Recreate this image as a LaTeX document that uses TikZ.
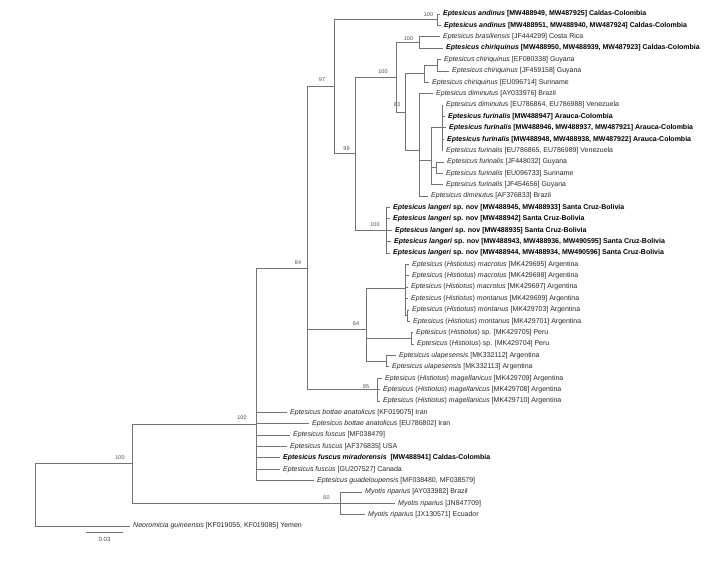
\documentclass[tikz,border=0pt]{standalone}
\usepackage{fontspec}
\setmainfont{Liberation Sans}
\usepackage{tikz}
\usepackage{xcolor}

\begin{document}
\begin{tikzpicture}[
    x=1pt, y=-1pt,
    tip/.style={anchor=west, inner xsep=3pt, inner ysep=0pt, font=\fontsize{7}{8}\selectfont, text=black!85},
    tipb/.style={tip, font=\fontsize{7}{8}\selectfont\bfseries, text=black},
    bs/.style={inner sep=0pt, font=\fontsize{5.5}{6}\selectfont, text=black!70},
    branch/.style={draw=black!55, line width=0.8pt}
]
  \useasboundingbox (0,0) rectangle (714,565);

  % --- TIPS: ANDINUS TO DIMINUTUS ---
  \node[tipb] (and1) at (440,14.0) {\textit{Eptesicus andinus} [MW488949, MW487925] Caldas-Colombia};
  \node[tipb] (and2) at (441,25.4) {\textit{Eptesicus andinus} [MW488951, MW488940, MW487924] Caldas-Colombia};
  \node[tip] (bra) at (440,36.8) {\textit{Eptesicus brasiliensis} [JF444299] Costa Rica};
  \node[tipb] (chi1) at (443,48.1) {\textit{Eptesicus chiriquinus} [MW488950, MW488939, MW487923] Caldas-Colombia};
  \node[tip] (chi2) at (441,59.5) {\textit{Eptesicus chiriquinus} [EF080338] Guyana};
  \node[tip] (chi3) at (449,70.9) {\textit{Eptesicus chiriquinus} [JF459158] Guyana};
  \node[tip] (chi4) at (429,82.3) {\textit{Eptesicus chiriquinus} [EU096714] Suriname};
  \node[tip] (dim1) at (433,93.7) {\textit{Eptesicus diminutus} [AY033976] Brazil};
  \node[tip] (dim2) at (443,105.0) {\textit{Eptesicus diminutus} [EU786864, EU786988] Venezuela};
  \node[tipb] (fur1) at (445,116.4) {\textit{Eptesicus furinalis} [MW488947] Arauca-Colombia};
  \node[tipb] (fur2) at (446,127.8) {\textit{Eptesicus furinalis} [MW488946, MW488937, MW487921] Arauca-Colombia};
  \node[tipb] (fur3) at (444,139.2) {\textit{Eptesicus furinalis} [MW488948, MW488938, MW487922] Arauca-Colombia};
  \node[tip] (fur4) at (443,150.6) {\textit{Eptesicus furinalis} [EU786865, EU786989] Venezuela};
  \node[tip] (fur5) at (444,161.9) {\textit{Eptesicus furinalis} [JF448032] Guyana};
  \node[tip] (fur6) at (443,173.3) {\textit{Eptesicus furinalis} [EU096733] Suriname};
  \node[tip] (fur7) at (443,184.7) {\textit{Eptesicus furinalis} [JF454656] Guyana};
  \node[tip] (dim3) at (428,196.1) {\textit{Eptesicus diminutus} [AF376833] Brazil};

  % --- TIPS: LANGERI ---
  \node[tipb] (lan1) at (390,207.5) {\textit{Eptesicus langeri} sp. nov [MW488945, MW488933] Santa Cruz-Bolivia};
  \node[tipb] (lan2) at (390,218.8) {\textit{Eptesicus langeri} sp. nov [MW488942] Santa Cruz-Bolivia};
  \node[tipb] (lan3) at (392,230.2) {\textit{Eptesicus langeri} sp. nov [MW488935] Santa Cruz-Bolivia};
  \node[tipb] (lan4) at (391,241.6) {\textit{Eptesicus langeri} sp. nov [MW488943, MW488936, MW490595] Santa Cruz-Bolivia};
  \node[tipb] (lan5) at (390,253.0) {\textit{Eptesicus langeri} sp. nov [MW488944, MW488934, MW490596] Santa Cruz-Bolivia};

  % --- TIPS: HISTIOTUS ---
  \node[tip] (mac1) at (409,264.4) {\textit{Eptesicus} (\textit{Histiotus}) \textit{macrotus} [MK429695] Argentina};
  \node[tip] (mac2) at (409,275.7) {\textit{Eptesicus} (\textit{Histiotus}) \textit{macrotus} [MK429698] Argentina};
  \node[tip] (mac3) at (408,287.1) {\textit{Eptesicus} (\textit{Histiotus}) \textit{macrotus} [MK429697] Argentina};
  \node[tip] (mon1) at (408,298.5) {\textit{Eptesicus} (\textit{Histiotus}) \textit{montanus} [MK429699] Argentina};
  \node[tip] (mon2) at (409,309.9) {\textit{Eptesicus} (\textit{Histiotus}) \textit{montanus} [MK429703] Argentina};
  \node[tip] (mon3) at (410,321.3) {\textit{Eptesicus} (\textit{Histiotus}) \textit{montanus} [MK429701] Argentina};
  \node[tip] (his1) at (413,332.6) {\textit{Eptesicus} (\textit{Histiotus}) sp. [MK429705] Peru};
  \node[tip] (his2) at (414,344.0) {\textit{Eptesicus} (\textit{Histiotus}) sp. [MK429704] Peru};
  \node[tip] (ula1) at (396,355.4) {\textit{Eptesicus ulapesensis} [MK332112] Argentina};
  \node[tip] (ula2) at (389,366.8) {\textit{Eptesicus ulapesensis} [MK332113] Argentina};
  \node[tip] (mag1) at (382,378.2) {\textit{Eptesicus} (\textit{Histiotus}) \textit{magellanicus} [MK429709] Argentina};
  \node[tip] (mag2) at (380,389.5) {\textit{Eptesicus} (\textit{Histiotus}) \textit{magellanicus} [MK429708] Argentina};
  \node[tip] (mag3) at (380,400.9) {\textit{Eptesicus} (\textit{Histiotus}) \textit{magellanicus} [MK429710] Argentina};

  % --- TIPS: BASAL EPTESICUS, MYOTIS, OUTGROUP ---
  \node[tip] (bot1) at (287,412.3) {\textit{Eptesicus bottae anatolicus} [KF019075] Iran};
  \node[tip] (bot2) at (309,423.7) {\textit{Eptesicus bottae anatolicus} [EU786802] Iran};
  \node[tip] (fus1) at (290,435.1) {\textit{Eptesicus fuscus} [MF038479]};
  \node[tip] (fus2) at (287,446.4) {\textit{Eptesicus fuscus} [AF376835] USA};
  \node[tipb] (mir) at (280,457.8) {\textit{Eptesicus fuscus miradorensis} \ [MW488941] Caldas-Colombia};
  \node[tip] (fus3) at (280,469.2) {\textit{Eptesicus fuscus} [GU207527] Canada};
  \node[tip] (gua) at (314,480.6) {\textit{Eptesicus guadeloupensis} [MF038480, MF038579]};
  \node[tip] (myo1) at (362,492.0) {\textit{Myotis riparius} [AY033982] Brazil};
  \node[tip] (myo2) at (395,503.3) {\textit{Myotis riparius} [JN847709]};
  \node[tip] (myo3) at (365,514.7) {\textit{Myotis riparius} [JX130571] Ecuador};
  \node[tip] (neo) at (130,526.1) {\textit{Neoromicia guineensis} [KF019055, KF019085] Yemen};

  % --- INNER NODES ---
  \coordinate (nAnd) at (437,19.7);
  \coordinate (nBra) at (419,42.5);
  \coordinate (nChG) at (437,65.2);
  \coordinate (nChi) at (424,73.8);
  \coordinate (nFur) at (442,127.8);
  \coordinate (nGuy) at (436,167.6);
  \coordinate (nFG) at (431,160.0);
  \coordinate (nDim) at (419,149.9);
  \coordinate (n83) at (405,111.9);
  \coordinate (n100b) at (396,77.2);
  \coordinate (nLan) at (386,230.2);
  \coordinate (n99) at (355,153.7);
  \coordinate (n97) at (334,86.7);
  \coordinate (nMon) at (407,315.6);
  \coordinate (nMac) at (405,288.3);
  \coordinate (nSp) at (411,338.3);
  \coordinate (nUla) at (386,361.1);
  \coordinate (n64) at (366,329.2);
  \coordinate (nMag) at (377,389.5);
  \coordinate (n84) at (307,268.5);
  \coordinate (nEpt) at (256,424.2);
  \coordinate (nMyo) at (340,503.3);
  \coordinate (n100a) at (132,463.8);
  \coordinate (root) at (35,495.0);

  % --- SUPPORT VALUES ---
  \node[bs] (b100and) at (428.5,14.5) {100};
  \node[bs] (b100bra) at (408.5,38.5) {100};
  \node[bs] (b100b) at (383,72) {100};
  \node[bs] (b83) at (397,105) {83};
  \node[bs] (b97) at (322,80) {97};
  \node[bs] (b99) at (346.5,149) {99};
  \node[bs] (b100lan) at (375,225) {100};
  \node[bs] (b84) at (298,263) {84};
  \node[bs] (b64) at (356,324) {64};
  \node[bs] (b95) at (366,386.5) {95};
  \node[bs] (b100ept) at (242,418) {100};
  \node[bs] (b100a) at (120,457.5) {100};
  \node[bs] (b60) at (326.5,497.5) {60};

  % --- DRAWING BRANCHES ---

  % Backbone
  \draw[branch] (root) |- (n100a)  (root) |- (neo.west);
  \draw[branch] (n100a) |- (nEpt)  (n100a) |- (nMyo);
  \draw[branch] (nMyo) |- (myo1.west)  (nMyo) |- (myo2.west)  (nMyo) |- (myo3.west);
  \draw[branch] (nEpt) |- (n84)  (nEpt) |- (bot1.west)  (nEpt) |- (bot2.west)  (nEpt) |- (fus1.west);
  \draw[branch] (nEpt) |- (fus2.west)  (nEpt) |- (mir.west)  (nEpt) |- (fus3.west)  (nEpt) |- (gua.west);
  \draw[branch] (n84) |- (n97)  (n84) |- (n64)  (n84) |- (nMag);

  % Histiotus group
  \draw[branch] (nMag) |- (mag1.west)  (nMag) |- (mag2.west)  (nMag) |- (mag3.west);
  \draw[branch] (n64) |- (nMac)  (n64) |- (nSp)  (n64) |- (nUla);
  \draw[branch] (nMac) |- (mac1.west)  (nMac) |- (mac2.west)  (nMac) |- (mac3.west)  (nMac) |- (mon1.west)  (nMac) |- (nMon);
  \draw[branch] (nMon) |- (mon2.west)  (nMon) |- (mon3.west);
  \draw[branch] (nSp) |- (his1.west)  (nSp) |- (his2.west);
  \draw[branch] (nUla) |- (ula1.west)  (nUla) |- (ula2.west);

  % Upper clade
  \draw[branch] (n97) |- (nAnd)  (n97) |- (n99);
  \draw[branch] (nAnd) |- (and1.west)  (nAnd) |- (and2.west);
  \draw[branch] (n99) |- (n100b)  (n99) |- (nLan);
  \draw[branch] (nLan) |- (lan1.west)  (nLan) |- (lan2.west)  (nLan) |- (lan3.west)  (nLan) |- (lan4.west)  (nLan) |- (lan5.west);
  \draw[branch] (n100b) |- (nBra)  (n100b) |- (n83);
  \draw[branch] (nBra) |- (bra.west)  (nBra) |- (chi1.west);
  \draw[branch] (n83) |- (nChi)  (n83) |- (nDim);
  \draw[branch] (nChi) |- (nChG)  (nChi) |- (chi4.west);
  \draw[branch] (nChG) |- (chi2.west)  (nChG) |- (chi3.west);
  \draw[branch] (nDim) |- (dim1.west)  (nDim) |- (nFG)  (nDim) |- (dim3.west);
  \draw[branch] (nFG) |- (nFur)  (nFG) |- (nGuy)  (nFG) |- (fur7.west);
  \draw[branch] (nFur) |- (dim2.west)  (nFur) |- (fur1.west)  (nFur) |- (fur2.west)  (nFur) |- (fur3.west)  (nFur) |- (fur4.west);
  \draw[branch] (nGuy) |- (fur5.west)  (nGuy) |- (fur6.west);

  % Scale bar
  \coordinate (sbL) at (86,532);
  \coordinate (sbR) at (123,532);
  \draw[branch] (sbL) -- (sbR);
  \node[bs] (sbT) at (104.5,539.5) {\fontsize{6}{7}\selectfont 0.03};
\end{tikzpicture}
\end{document}
